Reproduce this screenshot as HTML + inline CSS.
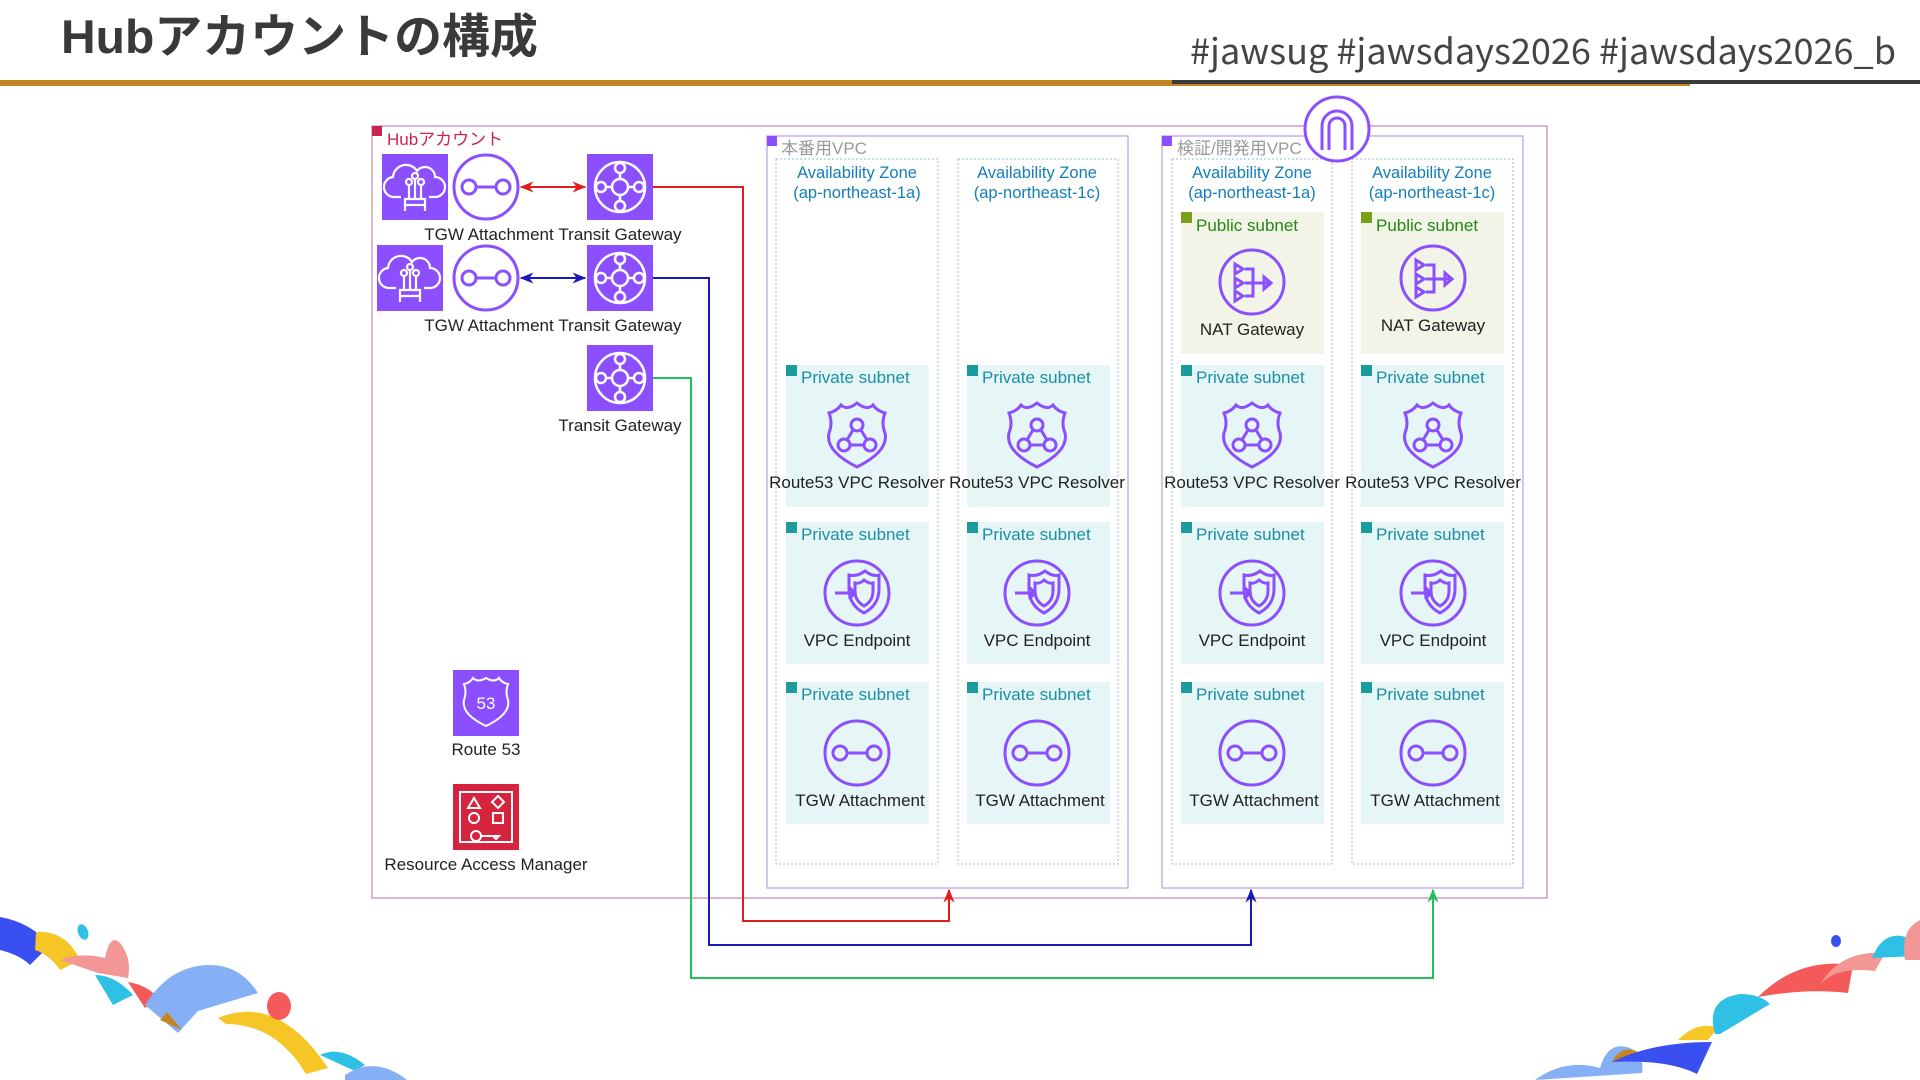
<!DOCTYPE html>
<html><head><meta charset="utf-8"><style>
html,body{margin:0;padding:0;background:#fff;}
svg{display:block;font-family:"Liberation Sans","Noto Sans CJK JP",sans-serif;}
</style></head><body>
<svg width="1920" height="1080" viewBox="0 0 1920 1080" xmlns="http://www.w3.org/2000/svg">
<defs>
<marker id="arR" viewBox="0 0 10 10" refX="9" refY="5" markerWidth="7" markerHeight="7" orient="auto-start-reverse"><path d="M0,1 L10,5 L0,9 L3,5z" fill="#e01e1e"/></marker>
<marker id="arB" viewBox="0 0 10 10" refX="9" refY="5" markerWidth="7" markerHeight="7" orient="auto-start-reverse"><path d="M0,1 L10,5 L0,9 L3,5z" fill="#1a1ab8"/></marker>
<marker id="arG" viewBox="0 0 10 10" refX="9" refY="5" markerWidth="7" markerHeight="7" orient="auto-start-reverse"><path d="M0,1 L10,5 L0,9 L3,5z" fill="#1fbf5a"/></marker>
<g id="att"><circle r="32" fill="none" stroke="#8c4fff" stroke-width="3"/><circle cx="-17" r="7" fill="none" stroke="#8c4fff" stroke-width="3"/><circle cx="17" r="7" fill="none" stroke="#8c4fff" stroke-width="3"/><line x1="-10" x2="10" stroke="#8c4fff" stroke-width="3"/></g>
<g id="tgw"><rect x="-33" y="-33" width="66" height="66" fill="#8c4fff"/><g fill="none" stroke="#fff" stroke-width="2.5"><circle r="25"/><circle r="8"/><circle cx="-19" r="5"/><circle cx="19" r="5"/><circle cy="-19" r="5"/><circle cy="19" r="5"/><path d="M-14,0h6M8,0h6M0,-14v6M0,8v6"/></g></g>
<g id="cloud"><rect x="-33" y="-33" width="66" height="66" fill="#8c4fff"/><g fill="none" stroke="#fff" stroke-width="2.2"><path d="M-14,10 h-6 a10,10 0 0 1 -2,-20 a13,13 0 0 1 24,-6 a10,10 0 0 1 18,6 a9,9 0 0 1 0,20 h-6"/><circle cx="-6" cy="-5" r="3"/><circle cx="0" cy="-11" r="3"/><circle cx="6" cy="-5" r="3"/><path d="M-6,-2v14M0,-8v20M6,-2v14M-10,12h20v6h-20z M-10,18v6M10,18v6"/></g></g>
<g id="res"><g fill="none" stroke="#8c4fff" stroke-width="3"><path d="M-28,-22 q8,-2 12,-8 q6,6 16,-2 q10,8 16,2 q4,6 12,8 q-4,10 0,20 q4,18 -28,34 q-32,-16 -28,-34 q4,-10 0,-20z"/><circle cy="-10" r="6"/><circle cx="-13" cy="10" r="6"/><circle cx="13" cy="10" r="6"/><path d="M-4,-5 l-6,10 M4,-5 l6,10 M-7,10 h14"/></g></g>
<g id="ep"><g fill="none" stroke="#8c4fff" stroke-width="3"><circle r="32"/><path d="M-8,-18 q8,2 16,-4 q8,6 14,4 v14 q0,16 -15,24 q-15,-8 -15,-24z"/><path d="M-2,-10 q5,1 9,-3 q5,4 9,3 v8 q0,10 -9,15 q-9,-5 -9,-15z"/><path d="M-22,0 h20 M-8,-6 l6,6 l-6,6"/></g></g>
<g id="nat"><g fill="none" stroke="#8c4fff" stroke-width="3"><circle r="32"/><path d="M-17,-18 l8,5 l-8,5z M-17,-4 l8,5 l-8,5z M-17,9 l8,5 l-8,5z M-7,-13 h8 v27 h-8 M-7,1 h24 M12,-5 l7,6 l-7,6z"/></g></g>
</defs>

<!-- header -->
<text x="61" y="53" font-size="47" font-weight="bold" fill="#3a3a3a" textLength="477" lengthAdjust="spacingAndGlyphs">Hubアカウントの構成</text>
<text x="1190" y="64" font-size="35" fill="#444" textLength="706" lengthAdjust="spacingAndGlyphs" font-family="'Noto Sans CJK JP','Liberation Sans',sans-serif">#jawsug #jawsdays2026 #jawsdays2026_b</text>
<rect x="0" y="80" width="1690" height="6" fill="#c58420"/>
<rect x="1172" y="80" width="748" height="4" fill="#3a3a3a"/>

<!-- hub account -->
<rect x="372" y="126" width="1175" height="772" fill="none" stroke="#d79bbf" stroke-width="1.5"/>
<rect x="372" y="126" width="10" height="10" fill="#c7254e"/>
<text x="387" y="145" font-size="17" fill="#c7254e">Hubアカウント</text>

<!-- VPCs -->
<rect x="767" y="136" width="361" height="752" fill="none" stroke="#c9b1e8" stroke-width="1.5"/>
<rect x="767" y="136" width="10" height="10" fill="#8c4fff"/>
<text x="781" y="154" font-size="17" fill="#999">本番用VPC</text>
<rect x="1162" y="136" width="361" height="752" fill="none" stroke="#c9b1e8" stroke-width="1.5"/>
<rect x="1162" y="136" width="10" height="10" fill="#8c4fff"/>
<text x="1177" y="154" font-size="17" fill="#999">検証/開発用VPC</text>

<!-- AZ columns -->
<g fill="none" stroke="#9bbcd6" stroke-width="1" stroke-dasharray="2,2">
<rect x="776" y="159" width="162" height="705"/>
<rect x="958" y="159" width="160" height="705"/>
<rect x="1172" y="159" width="160" height="705"/>
<rect x="1352" y="159" width="161" height="705"/>
</g>
<g font-size="16.5" fill="#147eba" text-anchor="middle">
<text x="857" y="178">Availability Zone</text><text x="857" y="198">(ap-northeast-1a)</text>
<text x="1037" y="178">Availability Zone</text><text x="1037" y="198">(ap-northeast-1c)</text>
<text x="1252" y="178">Availability Zone</text><text x="1252" y="198">(ap-northeast-1a)</text>
<text x="1432" y="178">Availability Zone</text><text x="1432" y="198">(ap-northeast-1c)</text>
</g>

<!-- subnets -->
<g fill="#e6f5f6">
<rect x="786" y="365" width="143" height="142"/><rect x="967" y="365" width="143" height="142"/><rect x="1181" y="365" width="143" height="142"/><rect x="1361" y="365" width="143" height="142"/>
<rect x="786" y="522" width="143" height="142"/><rect x="967" y="522" width="143" height="142"/><rect x="1181" y="522" width="143" height="142"/><rect x="1361" y="522" width="143" height="142"/>
<rect x="786" y="682" width="143" height="142"/><rect x="967" y="682" width="143" height="142"/><rect x="1181" y="682" width="143" height="142"/><rect x="1361" y="682" width="143" height="142"/>
</g>
<g fill="#f1f4e7"><rect x="1181" y="212" width="143" height="142"/><rect x="1361" y="212" width="143" height="142"/></g>
<g fill="#1a9c9e">
<rect x="786" y="365" width="11" height="11"/><rect x="967" y="365" width="11" height="11"/><rect x="1181" y="365" width="11" height="11"/><rect x="1361" y="365" width="11" height="11"/>
<rect x="786" y="522" width="11" height="11"/><rect x="967" y="522" width="11" height="11"/><rect x="1181" y="522" width="11" height="11"/><rect x="1361" y="522" width="11" height="11"/>
<rect x="786" y="682" width="11" height="11"/><rect x="967" y="682" width="11" height="11"/><rect x="1181" y="682" width="11" height="11"/><rect x="1361" y="682" width="11" height="11"/>
</g>
<g fill="#7aa116"><rect x="1181" y="212" width="11" height="11"/><rect x="1361" y="212" width="11" height="11"/></g>
<g font-size="17" fill="#1a8fa8">
<text x="801" y="383">Private subnet</text><text x="982" y="383">Private subnet</text><text x="1196" y="383">Private subnet</text><text x="1376" y="383">Private subnet</text>
<text x="801" y="540">Private subnet</text><text x="982" y="540">Private subnet</text><text x="1196" y="540">Private subnet</text><text x="1376" y="540">Private subnet</text>
<text x="801" y="700">Private subnet</text><text x="982" y="700">Private subnet</text><text x="1196" y="700">Private subnet</text><text x="1376" y="700">Private subnet</text>
</g>
<g font-size="17" fill="#248814"><text x="1196" y="231">Public subnet</text><text x="1376" y="231">Public subnet</text></g>

<!-- subnet icons -->
<use href="#nat" x="1252" y="282"/><use href="#nat" x="1433" y="278"/>
<use href="#res" x="857" y="435"/><use href="#res" x="1037" y="435"/><use href="#res" x="1252" y="435"/><use href="#res" x="1433" y="435"/>
<use href="#ep" x="857" y="593"/><use href="#ep" x="1037" y="593"/><use href="#ep" x="1252" y="593"/><use href="#ep" x="1433" y="593"/>
<use href="#att" x="857" y="753"/><use href="#att" x="1037" y="753"/><use href="#att" x="1252" y="753"/><use href="#att" x="1433" y="753"/>
<g font-size="17" fill="#222" text-anchor="middle">
<text x="1252" y="335">NAT Gateway</text><text x="1433" y="331">NAT Gateway</text>
<text x="857" y="488">Route53 VPC Resolver</text><text x="1037" y="488">Route53 VPC Resolver</text><text x="1252" y="488">Route53 VPC Resolver</text><text x="1433" y="488">Route53 VPC Resolver</text>
<text x="857" y="646">VPC Endpoint</text><text x="1037" y="646">VPC Endpoint</text><text x="1252" y="646">VPC Endpoint</text><text x="1433" y="646">VPC Endpoint</text>
<text x="860" y="806">TGW Attachment</text><text x="1040" y="806">TGW Attachment</text><text x="1254" y="806">TGW Attachment</text><text x="1435" y="806">TGW Attachment</text>
</g>

<!-- internet gateway -->
<circle cx="1337" cy="129" r="32" fill="#fff" stroke="#8c4fff" stroke-width="3"/>
<path d="M1322,150 v-24 a15,15 0 0 1 30,0 v24 M1329,150 v-24 a8,8 0 0 1 16,0 v24" fill="none" stroke="#8c4fff" stroke-width="3"/>

<!-- hub icons -->
<use href="#cloud" x="415" y="187"/><use href="#att" x="486" y="187"/><use href="#tgw" x="620" y="187"/>
<use href="#cloud" x="410" y="278"/><use href="#att" x="486" y="278"/><use href="#tgw" x="620" y="278"/>
<use href="#tgw" x="620" y="378"/>
<g font-size="17" fill="#222" text-anchor="middle">
<text x="489" y="240">TGW Attachment</text><text x="620" y="240">Transit Gateway</text>
<text x="489" y="331">TGW Attachment</text><text x="620" y="331">Transit Gateway</text>
<text x="620" y="431">Transit Gateway</text>
<text x="486" y="755">Route 53</text>
<text x="486" y="870">Resource Access Manager</text>
</g>
<rect x="453" y="670" width="66" height="66" fill="#8c4fff"/>
<path d="M464,684 q6,-1 9,-6 q5,5 13,0 q8,5 13,0 q3,5 9,6 q-3,8 0,16 q3,14 -22,26 q-25,-12 -22,-26 q3,-8 0,-16z" fill="none" stroke="#fff" stroke-width="2"/>
<text x="486" y="709" font-size="17" fill="#fff" text-anchor="middle">53</text>
<rect x="453" y="784" width="66" height="66" fill="#d6243f"/>
<g fill="none" stroke="#fff" stroke-width="2"><path d="M460,792h52v50h-52z"/><path d="M468,808 l6,-10 l6,10z"/><path d="M498,796 l6,6 l-6,6 l-6,-6z"/><circle cx="474" cy="818" r="5"/><rect x="493" y="813" width="10" height="10"/><circle cx="476" cy="836" r="5"/><path d="M481,836 h18 l-3,3 l-3,-3"/></g>

<!-- connectors -->
<line x1="521" y1="187" x2="585" y2="187" stroke="#e01e1e" stroke-width="2" marker-start="url(#arR)" marker-end="url(#arR)"/>
<line x1="521" y1="278" x2="585" y2="278" stroke="#1a1ab8" stroke-width="2" marker-start="url(#arB)" marker-end="url(#arB)"/>
<polyline points="653,187 743,187 743,921 949,921 949,890" fill="none" stroke="#e01e1e" stroke-width="2" marker-end="url(#arR)"/>
<polyline points="653,278 709,278 709,945 1251,945 1251,890" fill="none" stroke="#1a1ab8" stroke-width="2" marker-end="url(#arB)"/>
<polyline points="653,378 691,378 691,978 1433,978 1433,890" fill="none" stroke="#1fbf5a" stroke-width="2" marker-end="url(#arG)"/>

<!-- decorations bottom-left -->
<g>
<path d="M0,917 q30,5 50,28 l-20,20 q-10,-10 -30,-15z" fill="#3a4ff0"/>
<path d="M36,932 q30,-2 44,28 l-20,10 q-10,-15 -25,-20z" fill="#f6c526"/>
<ellipse cx="83" cy="932" rx="5" ry="8" fill="#2fc0e6" transform="rotate(-20 83 932)"/>
<path d="M60,960 q20,-8 45,-2 q5,-25 15,-15 q12,15 8,35 l-30,-5 z" fill="#f29696"/>
<path d="M95,975 q20,0 38,20 l-20,10z" fill="#2fc0e6"/>
<path d="M128,982 q20,3 32,18 l-15,8z" fill="#f55a5a"/>
<path d="M145,1005 q25,-40 65,-40 q30,0 48,28 l-60,18 l-20,22z" fill="#86b0f5"/>
<path d="M160,1020 l22,10 l-15,-18z" fill="#c98420"/>
<path d="M218,1018 q60,-25 110,50 l-22,6 q-30,-50 -80,-50z" fill="#f6c526"/>
<ellipse cx="279" cy="1006" rx="12" ry="14" fill="#f55a5a"/>
<path d="M320,1055 q20,-10 45,10 l-10,6z" fill="#2fc0e6"/>
<path d="M345,1075 q30,-20 62,5 h-62z" fill="#86b0f5"/>
</g>
<!-- decorations bottom-right -->
<g>
<path d="M1535,1080 q30,-22 65,-12 q8,-28 30,-20 q15,8 12,25 z" fill="#86b0f5"/>
<path d="M1612,1062 q10,-20 30,-8z" fill="#c98420"/>
<path d="M1612,1062 q40,-20 100,-20 l-15,32 q-30,-15 -85,-12z" fill="#3a4ff0"/>
<path d="M1678,1040 q20,-20 40,-12 l-10,12z" fill="#f6c526"/>
<path d="M1715,1034 q-10,-35 25,-40 q20,0 30,10 l-50,30z" fill="#2fc0e6"/>
<path d="M1758,997 q40,-40 95,-32 l-5,28 q-40,-5 -90,4z" fill="#f55a5a"/>
<path d="M1820,985 q20,-35 65,-32 l-10,18 q-40,-5 -55,14z" fill="#f29696"/>
<path d="M1872,958 q10,-25 30,-22 q10,2 14,20z" fill="#2fc0e6"/>
<path d="M1905,960 q-5,-30 15,-40 v40z" fill="#f29696"/>
<ellipse cx="1836" cy="941" rx="5" ry="6" fill="#3a4ff0"/>
</g>
</svg>
</body></html>
